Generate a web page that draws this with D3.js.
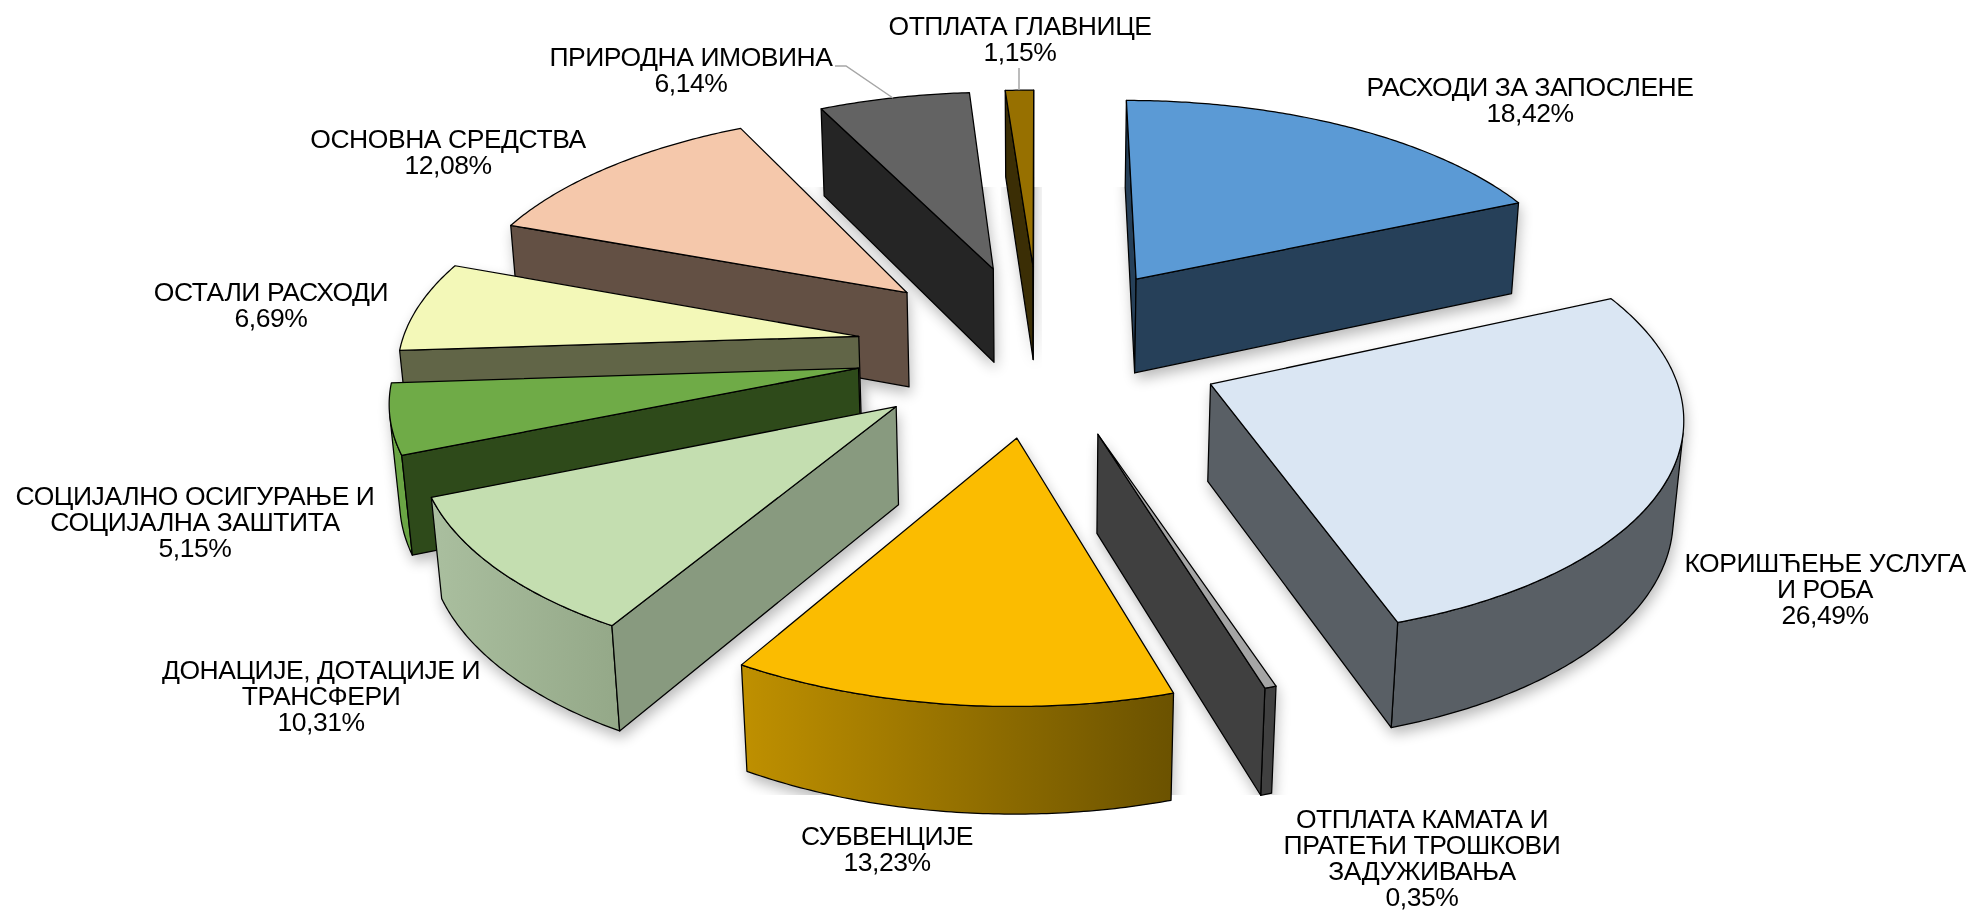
<!DOCTYPE html>
<html>
<head>
<meta charset="utf-8">
<style>
body { margin: 0; background: #fff; }
text { font-family: "Liberation Sans", Arial, sans-serif; font-size: 26.5px; letter-spacing: -0.45px; fill: #000; text-anchor: middle; }
</style>
</head>
<body>
<div id="chart"></div>
<script src="https://d3js.org/d3.v7.min.js"></script>
<script>
// values, clockwise from 12 o'clock
var values = [18.42, 26.49, 0.35, 13.23, 10.31, 5.15, 6.69, 12.08, 6.14, 1.15];
var percentLabels = ["18,42%", "26,49%", "0,35%", "13,23%", "10,31%", "5,15%", "6,69%", "12,08%", "6,14%", "1,15%"];
var nameLabels = [
  ["РАСХОДИ ЗА ЗАПОСЛЕНЕ"],
  ["КОРИШЋЕЊЕ УСЛУГА", "И РОБА"],
  ["ОТПЛАТА КАМАТА И", "ПРАТЕЋИ ТРОШКОВИ", "ЗАДУЖИВАЊА"],
  ["СУБВЕНЦИЈЕ"],
  ["ДОНАЦИЈЕ, ДОТАЦИЈЕ И", "ТРАНСФЕРИ"],
  ["СОЦИЈАЛНО ОСИГУРАЊЕ И", "СОЦИЈАЛНА ЗАШТИТА"],
  ["ОСТАЛИ РАСХОДИ"],
  ["ОСНОВНА СРЕДСТВА"],
  ["ПРИРОДНА ИМОВИНА"],
  ["ОТПЛАТА ГЛАВНИЦЕ"]
];

// colours: top face, radial walls, outer wall left and right
var topColors = ["#5b9ad5", "#dae6f3", "#a5a5a5", "#fbbc00", "#c4deb0", "#6fab47", "#f3f8b8", "#f5c8ab", "#636363", "#977000"];
var sideColors = ["#264059", "#595f65", "#404040", "#7a5e00", "#889a7f", "#2e4a1a", "#616547", "#635044", "#252525", "#3b2e05"];
var outerLeft = ["#264059", "#595f65", "#404040", "#bf9000", "#aabf9f", "#6aa544", "#616547", "#635044", "#252525", "#3b2e05"];
var outerRight = ["#264059", "#595f65", "#404040", "#6b5200", "#94a888", "#6aa544", "#616547", "#635044", "#252525", "#3b2e05"];

// where each label block sits: centre x, first baseline
var labelX = [1530, 1825, 1422, 887, 321, 195, 271, 448, 691, 1020];
var labelY = [96, 572, 828, 845, 679, 505, 301, 148, 66, 35];
var lineStep = 26;

// the camera, fitted against the corners of the slices
var u0 = 1039.4, v0 = 348.52, fx = 458.28, fy = 444.74, camDist = 7.5524, elev = 0.5033;
var depth = 0.2506, explode = 0.4009;

var svg = d3.select("#chart").append("svg").attr("width", 1972).attr("height", 912);
var defs = svg.append("defs");

var blur = defs.append("filter").attr("id", "soft").attr("x", "-20%").attr("y", "-20%").attr("width", "140%").attr("height", "140%");
blur.append("feGaussianBlur").attr("stdDeviation", 7);
defs.append("clipPath").attr("id", "shadowClip").append("rect").attr("x", 0).attr("y", 187).attr("width", 1972).attr("height", 608);

function project(x, y, z) {
  var c = Math.cos(elev), s = Math.sin(elev);
  var d = 1 - (z * c + y * s) / camDist;
  return [u0 + fx * x / d, v0 - fy * (y * c - z * s) / d];
}

var pie = d3.pie().sort(null).startAngle(0).endAngle(2 * Math.PI);
var slices = pie(values);

// point of slice d at angle a and radius r, on the top (y=0) or the bottom
function pt(d, a, r, bottom) {
  var mid = (d.startAngle + d.endAngle) / 2;
  var x = explode * Math.sin(mid) + r * Math.sin(a);
  var z = -explode * Math.cos(mid) - r * Math.cos(a);
  return project(x, bottom ? -depth : 0, z);
}

function area(p) {
  var s = 0;
  p.forEach(function(a, i) {
    var b = p[(i + 1) % p.length];
    s += a[0] * b[1] - b[0] * a[1];
  });
  return s;
}

var line = d3.line();
function closed(p) { return line(p) + "Z"; }

function arcAngles(d) {
  var n = Math.max(2, Math.ceil((d.endAngle - d.startAngle) / 0.01));
  return d3.range(n + 1).map(function(k) { return d.startAngle + (d.endAngle - d.startAngle) * k / n; });
}

// back slices first
var order = d3.range(slices.length).sort(function(a, b) {
  var ma = (slices[a].startAngle + slices[a].endAngle) / 2, mb = (slices[b].startAngle + slices[b].endAngle) / 2;
  return d3.ascending(-Math.cos(ma), -Math.cos(mb));
});

var shadows = svg.append("g").attr("clip-path", "url(#shadowClip)").attr("opacity", 0.28);
var marks = svg.append("g");

order.forEach(function(i) {
  var d = slices[i], angles = arcAngles(d);
  var topArc = angles.map(function(a) { return pt(d, a, 1, false); });
  var botArc = angles.map(function(a) { return pt(d, a, 1, true); });
  var apexT = pt(d, 0, 0, false), apexB = pt(d, 0, 0, true);

  // shadow: the whole solid, blurred and pushed a little down
  var hull = d3.polygonHull(topArc.concat(botArc, [apexT, apexB]));
  shadows.append("path").attr("d", closed(hull)).attr("fill", "#000")
    .attr("filter", "url(#soft)").attr("transform", "translate(2,7)");

  var g = marks.append("g");

  // outer wall, only the part turned to the viewer
  var run = [];
  angles.forEach(function(a, k) {
    if (k == angles.length - 1) return;
    var q = [topArc[k], topArc[k + 1], botArc[k + 1], botArc[k]];
    if (area(q) < 0) run.push(k);
  });
  if (run.length) {
    var a0 = run[0], a1 = run[run.length - 1] + 1;
    var outer = topArc.slice(a0, a1 + 1).concat(botArc.slice(a0, a1 + 1).reverse());
    var xs = d3.extent(outer, function(p) { return p[0]; });
    var grad = defs.append("linearGradient").attr("id", "outer" + i)
      .attr("gradientUnits", "userSpaceOnUse").attr("x1", xs[0]).attr("x2", xs[1]).attr("y1", 0).attr("y2", 0);
    grad.append("stop").attr("offset", 0).attr("stop-color", outerLeft[i]);
    grad.append("stop").attr("offset", 1).attr("stop-color", outerRight[i]);
    g.append("path").attr("d", closed(outer)).attr("fill", "url(#outer" + i + ")")
      .attr("stroke", "#000").attr("stroke-width", 1.25).attr("stroke-linejoin", "round");
  }

  // radial walls
  var startWall = [apexT, topArc[0], botArc[0], apexB];
  var endWall = [apexT, topArc[topArc.length - 1], botArc[botArc.length - 1], apexB];
  [[startWall, area(startWall) < 0], [endWall, area(endWall) > 0]].forEach(function(w) {
    if (!w[1]) return;
    g.append("path").attr("d", closed(w[0])).attr("fill", sideColors[i])
      .attr("stroke", "#000").attr("stroke-width", 1.25).attr("stroke-linejoin", "round");
  });

  // top face
  g.append("path").attr("d", closed([apexT].concat(topArc))).attr("fill", topColors[i])
    .attr("stroke", "#000").attr("stroke-width", 1.25).attr("stroke-linejoin", "round");
});

// the two leader lines
svg.append("path").attr("d", line([[835, 66], [846, 66], [893, 98]])).attr("fill", "none").attr("stroke", "#a6a6a6").attr("stroke-width", 1.5);
svg.append("path").attr("d", line([[1019, 68], [1019, 90]])).attr("fill", "none").attr("stroke", "#a6a6a6").attr("stroke-width", 1.5);

// labels
values.forEach(function(v, i) {
  var rows = nameLabels[i].concat([percentLabels[i]]);
  var t = svg.append("text");
  rows.forEach(function(s, k) {
    t.append("tspan").attr("x", labelX[i]).attr("y", labelY[i] + k * lineStep).text(s);
  });
});
</script>
</body>
</html>
